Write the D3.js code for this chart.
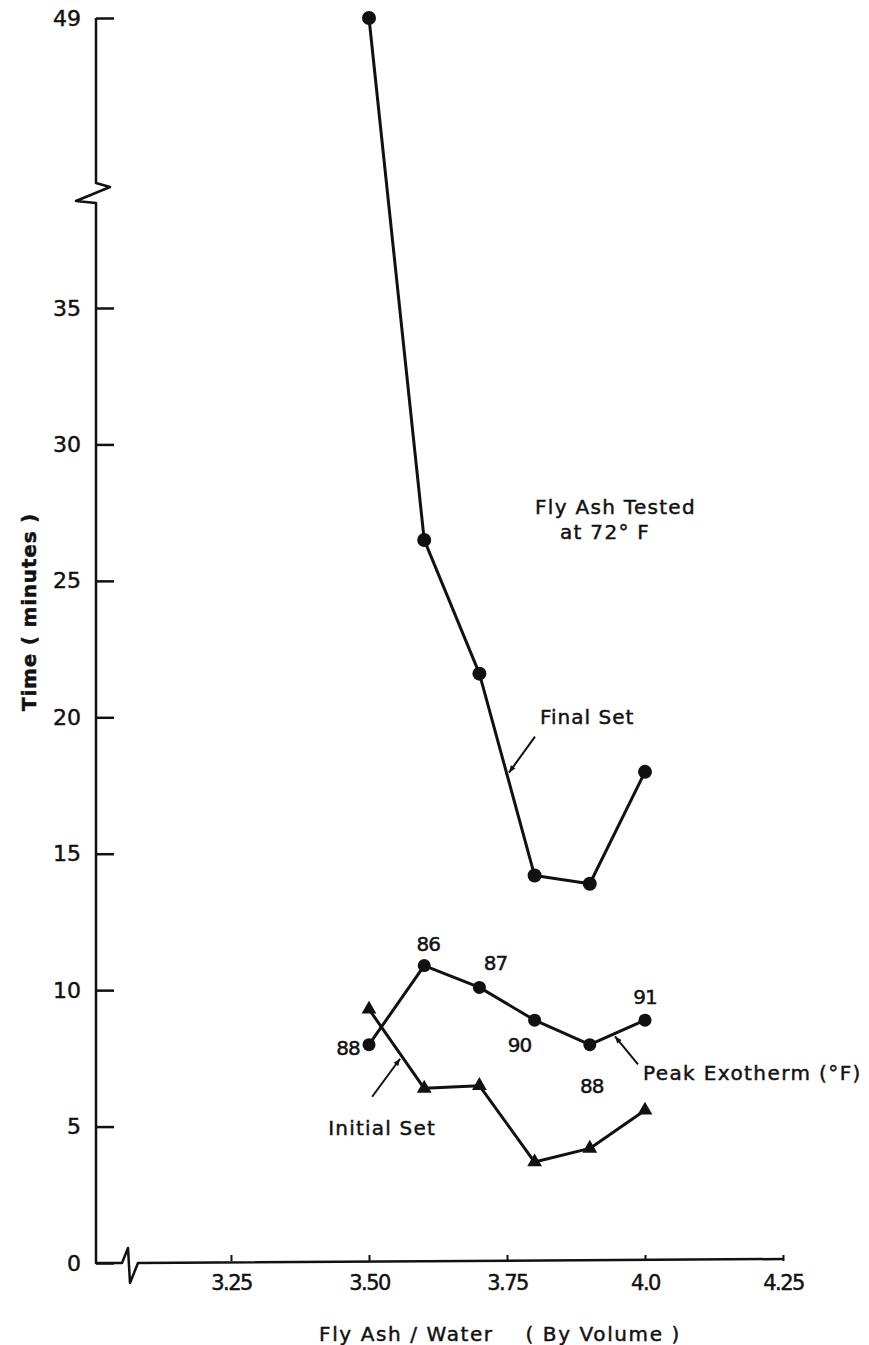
<!DOCTYPE html>
<html>
<head>
<meta charset="utf-8">
<script src="https://cdn.jsdelivr.net/npm/d3@7"></script>
<style>
  html, body { margin: 0; padding: 0; background: #fff; }
  svg { display: block; }
  text { font-family: "DejaVu Sans", sans-serif; fill: #111; stroke: #111; stroke-width: 0.45px; }
</style>
</head>
<body>
<svg id="chart" width="869" height="1345"></svg>
<script>
// ---- data ----
const ratios      = [3.50, 3.60, 3.70, 3.80, 3.90, 4.00];
const finalSet    = [49, 26.5, 21.6, 14.2, 13.9, 18.0];
const peakTime    = [8.0, 10.9, 10.1, 8.9, 8.0, 8.9];
const peakTemps   = ["88", "86", "87", "90", "88", "91"];
const initialSet  = [9.3, 6.4, 6.5, 3.7, 4.2, 5.6];
const yTicks      = [0, 5, 10, 15, 20, 25, 30, 35, 49];
const xTicks      = [3.25, 3.50, 3.75, 4.0, 4.25];
const xTickLabels = ["3.25", "3.50", "3.75", "4.0", "4.25"];

const svg = d3.select("#chart");
const ink = "#111";

// y has a break between 35 and 49
const y = d3.scaleLinear().domain([0, 35, 49]).range([1263, 308, 18]);
const x = d3.scaleLinear().domain([3.25, 4.25]).range([231, 783]);
const axisX = 96;
const breakY = 185;

// ---- axis lines with breaks ----
const p = d3.path();
p.moveTo(axisX, y(49));
p.lineTo(axisX, breakY - 2);
p.lineTo(axisX + 14, breakY + 2);
p.lineTo(axisX - 20, breakY + 16);
p.lineTo(axisX, breakY + 18);
p.lineTo(axisX, y(0));
p.lineTo(axisX + 26, y(0));
p.lineTo(axisX + 32, y(0) - 15);
p.lineTo(axisX + 34, y(0) + 20);
p.lineTo(axisX + 42, y(0));
p.lineTo(x(4.25), y(0) - 4);
svg.append("path").attr("d", p.toString())
  .attr("fill", "none").attr("stroke", ink).attr("stroke-width", 2.5)
  .attr("stroke-linejoin", "round");

// y ticks
const yAxis = d3.axisLeft(y).tickValues(yTicks).tickSize(-18).tickPadding(15)
  .tickFormat(d3.format("d"));
const gy = svg.append("g").attr("transform", `translate(${axisX},0)`).call(yAxis);
gy.select(".domain").remove();
gy.selectAll(".tick line").attr("stroke", ink).attr("stroke-width", 2.5);
gy.selectAll(".tick text").attr("font-size", 22).attr("fill", ink)
  .style("font-family", "DejaVu Sans, sans-serif");

// x ticks
const xAxis = d3.axisBottom(x).tickValues(xTicks).tickSize(-6).tickPadding(14)
  .tickFormat((d, i) => xTickLabels[i]);
const gx = svg.append("g").attr("transform", `translate(0,${y(0) - 2})`).call(xAxis);
gx.select(".domain").remove();
gx.selectAll(".tick line").attr("stroke", ink).attr("stroke-width", 2);
gx.selectAll(".tick text").attr("font-size", 21).attr("fill", ink)
  .attr("letter-spacing", "-1.5")
  .style("font-family", "DejaVu Sans, sans-serif");

// axis titles
svg.append("text").attr("x", 500).attr("y", 1341)
  .attr("text-anchor", "middle").attr("font-size", 20).attr("letter-spacing", "1.6")
  .attr("xml:space", "preserve")
  .text("Fly Ash / Water    ( By Volume )");
svg.append("text")
  .attr("transform", `translate(36,612) rotate(-90)`)
  .attr("text-anchor", "middle").attr("font-size", 20).attr("font-weight", "bold")
  .attr("letter-spacing", "0.8")
  .attr("xml:space", "preserve")
  .text("Time ( minutes )");

// ---- series ----
const line = d3.line().x(d => x(d[0])).y(d => y(d[1]));
const finalPts = ratios.map((r, i) => [r, finalSet[i]]);
const peakPts = ratios.map((r, i) => [r, peakTime[i]]);
const initPts = ratios.map((r, i) => [r, initialSet[i]]);

[finalPts, peakPts, initPts].forEach(pts => {
  svg.append("path").attr("d", line(pts)).attr("fill", "none")
    .attr("stroke", ink).attr("stroke-width", 3).attr("stroke-linejoin", "round");
});

svg.selectAll(".fdot").data(finalPts).enter().append("circle")
  .attr("cx", d => x(d[0])).attr("cy", d => y(d[1])).attr("r", 7).attr("fill", ink);
svg.selectAll(".pdot").data(peakPts).enter().append("circle")
  .attr("cx", d => x(d[0])).attr("cy", d => y(d[1])).attr("r", 6.5).attr("fill", ink);
const tri = d3.symbol().type(d3.symbolTriangle).size(95);
svg.selectAll(".tri").data(initPts).enter().append("path")
  .attr("d", tri).attr("fill", ink)
  .attr("transform", d => `translate(${x(d[0])},${y(d[1])})`);

// peak temperature labels (offsets relative to each point)
const tempOffsets = [[-21, 10], [4, -15], [16, -17], [-15, 32], [2, 48], [0, -16]];
svg.selectAll(".tlab").data(peakPts).enter().append("text")
  .attr("x", (d, i) => x(d[0]) + tempOffsets[i][0])
  .attr("y", (d, i) => y(d[1]) + tempOffsets[i][1])
  .attr("text-anchor", "middle").attr("font-size", 20).attr("letter-spacing", "-1")
  .text((d, i) => peakTemps[i]);

// ---- annotations ----
svg.append("defs").append("marker")
  .attr("id", "arr").attr("viewBox", "0 0 10 10").attr("refX", 10).attr("refY", 5)
  .attr("markerWidth", 10).attr("markerHeight", 7).attr("orient", "auto")
  .attr("markerUnits", "userSpaceOnUse")
  .append("path").attr("d", "M0,1 L10,5 L0,9 Z").attr("fill", ink);

function along(pts, i, t) {
  const a = pts[i], b = pts[i + 1];
  return [x(a[0]) + (x(b[0]) - x(a[0])) * t, y(a[1]) + (y(b[1]) - y(a[1])) * t];
}
function arrow(target, dx, dy) {
  svg.append("line")
    .attr("x1", target[0] + dx).attr("y1", target[1] + dy)
    .attr("x2", target[0] + 2 * Math.sign(dx)).attr("y2", target[1] + 2 * Math.sign(dy))
    .attr("stroke", ink).attr("stroke-width", 2).attr("marker-end", "url(#arr)");
}
const tFinal = along(finalPts, 2, 0.5);
arrow(tFinal, 28, -38);
svg.append("text").attr("x", tFinal[0] + 33).attr("y", tFinal[1] - 51)
  .attr("font-size", 20).attr("letter-spacing", "1").text("Final Set");

const tInit = along(initPts, 0, 0.6);
arrow(tInit, -30, 40);
svg.append("text").attr("x", tInit[0] - 20).attr("y", tInit[1] + 78)
  .attr("text-anchor", "middle").attr("font-size", 20).attr("letter-spacing", "1.2")
  .text("Initial Set");

const tPeak = along(peakPts, 4, 0.42);
arrow(tPeak, 25, 30);
svg.append("text").attr("x", tPeak[0] + 30).attr("y", tPeak[1] + 46)
  .attr("font-size", 20).attr("letter-spacing", "1.4").text("Peak Exotherm (°F)");

svg.append("text").attr("x", 535).attr("y", 514).attr("font-size", 20)
  .attr("letter-spacing", "1.3").text("Fly Ash Tested");
svg.append("text").attr("x", 560).attr("y", 539).attr("font-size", 20)
  .attr("letter-spacing", "1.3").text("at 72° F");
</script>
</body>
</html>
